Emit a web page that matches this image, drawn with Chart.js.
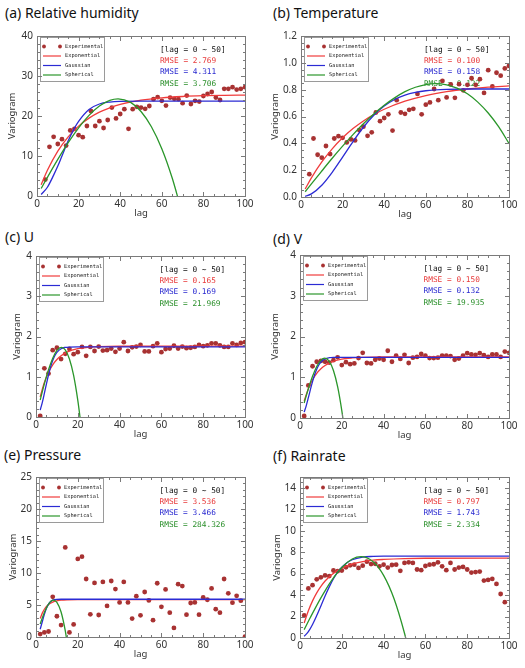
<!DOCTYPE html>
<html>
<head>
<meta charset="utf-8">
<title>Variogram</title>
<script src="https://cdn.jsdelivr.net/npm/chart.js@4.4.1/dist/chart.umd.min.js"></script>
<style>
  html, body { margin: 0; padding: 0; background: #fff; }
  body { position: relative; width: 525px; height: 668px; overflow: hidden; font-family: "Noto Sans", sans-serif; }
  .ttl { position: absolute; font-size: 14px; line-height: 18px; color: #111; white-space: nowrap; }
  canvas { position: absolute; }
</style>
</head>
<body>
<div class="ttl" style="left:5px;top:4px">(a) Relative humidity</div>
<div class="ttl" style="left:273px;top:4px">(b) Temperature</div>
<div class="ttl" style="left:5px;top:228px">(c) U</div>
<div class="ttl" style="left:273px;top:230px">(d) V</div>
<div class="ttl" style="left:4px;top:446px">(e) Pressure</div>
<div class="ttl" style="left:273px;top:447px">(f) Rainrate</div>
<canvas id="pa"></canvas>
<canvas id="pb"></canvas>
<canvas id="pc"></canvas>
<canvas id="pd"></canvas>
<canvas id="pe"></canvas>
<canvas id="pf"></canvas>
<script>
// lag of the experimental variogram
const lags = [2,4,6,8,10,12,14,16,18,20,22,24,26,28,30,32,34,36,38,40,42,44,46,48,50,
              52,54,56,58,60,62,64,66,68,70,72,74,76,78,80,82,84,86,88,90,92,94,96,98,100];
const xTicks = [0, 20, 40, 60, 80, 100];

// (a) Relative humidity
const rhObs = [null,4.1,12.3,14.8,13.0,14.2,12.6,16.4,16.8,15.2,14.7,17.5,21.2,17.5,18.7,17.0,19.0,22.1,19.4,20.5,
               21.7,16.8,21.7,22.3,22.1,21.8,22.5,24.2,24.7,23.8,22.6,24.6,24.3,24.2,23.2,25.1,23.0,23.8,23.6,25.0,
               25.5,26.0,24.6,24.0,26.8,26.8,27.2,26.6,26.8,27.2];
const rhExpLag = [2,5,10,15,20,25,30,35,40,50,60,70,80,90,100];
const rhExpVal = [2.80,6.43,11.23,14.80,17.47,19.46,20.95,22.05,22.88,23.95,24.55,24.88,25.07,25.17,25.23];
const rhGauLag = [2,5,8,10,12,15,18,20,25,30,35,40,50,100];
const rhGauVal = [0.37,2.19,5.22,7.48,10.02,13.79,16.96,18.67,21.63,23.00,23.49,23.65,23.70,23.70];
const rhSphLag = [2,5,10,15,20,25,30,35,39,45,50,55,60,65,69];
const rhSphVal = [1.87,4.65,9.14,13.33,17.05,20.16,22.51,23.93,24.30,23.40,21.13,17.32,11.83,4.50,-2.78];
const rhYTicks = [0, 10, 20, 30, 40];
const rhRmse = ['2.769', '4.311', '3.706'];

// (b) Temperature
const tObs = [null,0.17,0.436,0.315,0.293,0.38,0.32,0.436,0.453,0.441,0.407,0.429,0.422,0.499,0.524,0.456,0.482,0.63,0.565,0.589,
              0.616,0.495,0.722,0.63,0.62,0.65,0.657,0.768,0.616,0.688,0.705,0.805,0.722,0.865,0.742,0.839,0.739,0.841,0.795,0.836,
              0.885,0.836,0.878,0.776,0.945,0.824,0.926,0.904,0.958,0.977];
const tExpLag = [2,5,10,15,20,25,30,35,40,50,60,70,80,90,100];
const tExpVal = [0.060,0.142,0.261,0.359,0.441,0.510,0.567,0.614,0.654,0.714,0.756,0.785,0.805,0.819,0.828];
const tGauLag = [2,5,10,15,20,25,30,35,40,45,50,55,60,70,80,100];
const tGauVal = [0.004,0.023,0.088,0.184,0.297,0.413,0.520,0.609,0.678,0.727,0.760,0.780,0.792,0.802,0.805,0.805];
const tSphLag = [2,5,10,15,20,25,30,35,40,45,50,55,60,64.7,70,75,80,85,90,95,100];
const tSphVal = [0.039,0.098,0.194,0.289,0.379,0.465,0.546,0.619,0.684,0.739,0.785,0.818,0.838,0.845,0.836,0.811,0.769,0.707,0.626,0.524,0.399];
const tYTicks = [0, 0.2, 0.4, 0.6, 0.8, 1.0, 1.2];
const tRmse = ['0.100', '0.158', '0.122'];

// (c) U
const uObs = [0.03,1.21,1.08,1.66,1.72,1.44,1.57,1.69,1.56,1.61,1.74,1.52,1.74,1.64,1.75,1.65,1.66,1.70,1.62,1.70,
              1.86,1.64,1.73,1.75,1.79,1.63,1.63,1.76,1.83,1.61,1.69,1.70,1.77,1.70,1.75,1.71,1.72,1.74,1.79,1.76,
              1.78,1.83,1.83,1.78,1.74,1.74,1.83,1.79,1.84,1.86];
const uExpLag = [2,4,6,8,10,12,15,20,25,30,40,100];
const uExpVal = [0.50,0.856,1.113,1.296,1.428,1.522,1.616,1.697,1.733,1.748,1.758,1.760];
const uGauLag = [2,3,4,5,6,7,8,9,10,12,14,16,20,100];
const uGauVal = [0.17,0.359,0.586,0.824,1.050,1.246,1.404,1.523,1.606,1.697,1.729,1.738,1.740,1.740];
const uSphLag = [2,4,6,8,10,12.15,14,16,18,20,21,22];
const uSphVal = [0.423,0.823,1.177,1.462,1.654,1.730,1.667,1.442,1.032,0.413,0.019,-0.436];
const uYTicks = [0, 1, 2, 3, 4];
const uRmse = ['0.165', '0.169', '21.969'];

// (d) V
const vObs = [0.05,0.80,1.27,1.38,1.40,1.38,1.36,1.42,1.49,1.30,1.37,1.32,1.34,1.47,1.60,1.35,1.34,1.43,1.46,1.43,
              1.65,1.38,1.53,1.45,1.55,1.35,1.48,1.50,1.57,1.53,1.47,1.47,1.48,1.53,1.53,1.52,1.43,1.46,1.53,1.59,
              1.56,1.55,1.59,1.54,1.50,1.56,1.56,1.50,1.63,1.60];
const vExpLag = [2,4,6,8,10,12,15,20,25,30,40,100];
const vExpVal = [0.419,0.721,0.939,1.096,1.209,1.290,1.372,1.444,1.475,1.489,1.498,1.500];
const vGauLag = [2,3,4,5,6,7,8,9,10,12,14,16,20,100];
const vGauVal = [0.144,0.305,0.498,0.701,0.894,1.061,1.197,1.300,1.373,1.452,1.480,1.488,1.490,1.490];
const vSphLag = [2,4,6,8,10,11.84,14,16,18,20,21];
const vSphVal = [0.369,0.717,1.022,1.263,1.420,1.470,1.392,1.166,0.769,0.182,-0.19];
const vYTicks = [0, 1, 2, 3, 4];
const vRmse = ['0.150', '0.132', '19.935'];

// (e) Pressure
const pObs = [0.46,0.71,0.86,6.28,3.24,1.87,14.0,0.71,1.97,12.2,12.55,9.06,3.54,8.45,3.44,8.6,4.86,8.75,7.49,5.41,
              8.6,5.41,2.88,6.38,3.39,7.03,5.72,2.63,8.40,4.71,7.44,3.80,1.42,8.25,7.95,3.49,5.31,5.41,3.49,6.17,
              5.82,7.59,4.35,3.80,9.06,6.83,5.36,6.43,5.67,0.05];
const pExpLag = [2,3,4,5,6,8,10,12,15,20,100];
const pExpVal = [2.88,3.73,4.34,4.78,5.08,5.46,5.65,5.75,5.81,5.84,5.85];
const pGauLag = [2,3,4,5,6,7,8,9,10,12,100];
const pGauVal = [1.21,2.38,3.54,4.49,5.15,5.54,5.75,5.84,5.88,5.90,5.90];
const pSphLag = [2,4,6,8.37,10,12,14,15];
const pSphVal = [2.03,3.82,5.14,5.77,5.42,3.91,0.98,-1.09];
const pYTicks = [0, 5, 10, 15, 20, 25];
const pRmse = ['3.536', '3.466', '284.326'];

// (f) Rainrate
const rObs = [2.1,4.62,4.92,5.47,5.65,5.83,5.77,6.29,6.23,6.29,6.59,6.77,6.83,6.53,6.74,7.11,6.89,6.92,6.68,6.83,
              6.56,6.80,6.83,6.26,6.99,7.05,6.99,6.38,6.32,6.71,6.83,6.87,7.05,6.68,6.32,6.99,6.38,6.56,6.62,6.38,
              6.10,6.14,6.19,5.35,5.41,5.50,5.04,4.10,3.34,null];
const rExpLag = [2,4,6,8,10,12,15,20,25,30,35,40,50,60,100];
const rExpVal = [1.40,2.54,3.46,4.21,4.81,5.31,5.88,6.51,6.89,7.11,7.25,7.32,7.40,7.43,7.44];
const rGauLag = [2,4,6,8,10,12,14,16,18,20,22,25,30,35,40,100];
const rGauVal = [0.152,0.589,1.26,2.09,2.99,3.92,4.76,5.52,6.14,6.60,6.95,7.29,7.54,7.60,7.62,7.62];
const rSphLag = [2,5,10,15,20,25,29.2,35,40,45,50,52];
const rSphVal = [0.78,1.93,3.74,5.33,6.57,7.36,7.58,7.10,5.83,3.65,0.44,-1.16];
const rYTicks = [0, 2, 4, 6, 8, 10, 12, 14];
const rRmse = ['0.797', '1.743', '2.334'];

const dotColor = '#a83232';
const lineColors = ['#f03c3c', '#2b2bd4', '#2a962a'];
const rmseColors = ['#e83a3a', '#2a2ad0', '#2a8f2a'];

Chart.defaults.font.family = '"Noto Sans", sans-serif';
Chart.defaults.color = '#333';

function pts(xs, ys) {
	return xs.map((x, i) => ({ x: x, y: ys[i] }));
}

// major ticks plus minor ones in between
function tickList(majors, div, max) {
	const step = (majors[1] - majors[0]) / div;
	const out = [];
	for (let i = 0; majors[0] + i * step <= max + step * 1e-6; i++) {
		const v = +(majors[0] + i * step).toFixed(6);
		out.push({ v: v, major: majors.some(m => Math.abs(m - v) < step * 1e-3) });
	}
	return out;
}

// legend, rmse text, frame and inward ticks
const deco = {
	id: 'deco',
	beforeDatasetsDraw(chart, args, o) {
		const { ctx, chartArea: ca } = chart;
		ctx.save();
		ctx.font = '7.8px "DejaVu Sans Mono", monospace';
		ctx.textBaseline = 'middle';
		const x0 = ca.left + ca.width * 0.591;
		const y0 = ca.top + 14;
		ctx.fillStyle = '#111';
		ctx.fillText('[lag = 0 ~ 50]', x0, y0);
		o.rmse.forEach((r, i) => {
			ctx.fillStyle = rmseColors[i];
			ctx.fillText('RMSE = ' + r, x0, y0 + 11.2 * (i + 1));
		});
		ctx.restore();
	},
	afterDatasetsDraw(chart, args, o) {
		const { ctx, chartArea: ca, scales } = chart;
		ctx.save();
		const lx = Math.round(ca.left) + 3, ly = Math.round(ca.top) + 1;
		ctx.fillStyle = '#fff';
		ctx.fillRect(lx, ly, 64, 44);
		ctx.strokeStyle = '#9a9a9a';
		ctx.lineWidth = 1;
		ctx.strokeRect(lx + 0.5, ly + 0.5, 64, 44);
		ctx.font = '5.3px "DejaVu Sans Mono", monospace';
		ctx.textBaseline = 'middle';
		chart.data.datasets.forEach((ds, i) => {
			const yy = ly + 9.5 + i * 9.5;
			if (!ds.showLine) {
				ctx.fillStyle = ds.pointBackgroundColor;
				[lx + 4, lx + 20].forEach(px => {
					ctx.beginPath();
					ctx.arc(px, yy, 1.9, 0, Math.PI * 2);
					ctx.fill();
				});
			} else {
				ctx.strokeStyle = ds.borderColor;
				ctx.lineWidth = 1.2;
				ctx.beginPath();
				ctx.moveTo(lx + 3, yy);
				ctx.lineTo(lx + 21, yy);
				ctx.stroke();
			}
			ctx.fillStyle = '#222';
			ctx.fillText(ds.label, lx + 25, yy);
		});

		const L = Math.round(ca.left) + 0.5, R = Math.round(ca.right) + 0.5;
		const T = Math.round(ca.top) + 0.5, B = Math.round(ca.bottom) + 0.5;
		ctx.strokeStyle = '#7a7a7a';
		ctx.lineWidth = 1;
		ctx.beginPath();
		tickList(xTicks, 4, 100).forEach(t => {
			const px = Math.round(scales.x.getPixelForValue(t.v)) + 0.5;
			const len = t.major ? 4.5 : 2.5;
			ctx.moveTo(px, B); ctx.lineTo(px, B - len);
			ctx.moveTo(px, T); ctx.lineTo(px, T + len);
		});
		tickList(o.yTicks, o.yDiv, o.yMax).forEach(t => {
			const py = Math.round(scales.y.getPixelForValue(t.v)) + 0.5;
			const len = t.major ? 4.5 : 2.5;
			ctx.moveTo(L, py); ctx.lineTo(L + len, py);
			ctx.moveTo(R, py); ctx.lineTo(R - len, py);
		});
		ctx.stroke();
		ctx.strokeRect(L, T, R - L, B - T);
		ctx.restore();
	}
};

function makePanel(p) {
	const [L, T, R, B] = p.box;
	const cv = document.getElementById(p.id);
	cv.width = (R - L) + 37 + 14;
	cv.height = (B - T) + 6 + 24;
	cv.style.left = (L - 37) + 'px';
	cv.style.top = (T - 6) + 'px';

	const lineDs = (label, xs, ys, col, ord) => ({
		label: label,
		data: pts(xs, ys),
		showLine: true,
		borderColor: col,
		backgroundColor: col,
		borderWidth: 1.3,
		pointRadius: 0,
		fill: false,
		cubicInterpolationMode: 'monotone',
		order: ord
	});

	new Chart(cv, {
		type: 'line',
		data: {
			datasets: [{
				label: 'Experimental',
				data: pts(lags, p.obs),
				showLine: false,
				pointRadius: 2.4,
				pointBorderWidth: 0,
				pointBackgroundColor: dotColor,
				borderColor: dotColor,
				order: 4
			},
			lineDs('Exponential', p.exp[0], p.exp[1], lineColors[0], 3),
			lineDs('Gaussian', p.gau[0], p.gau[1], lineColors[1], 2),
			lineDs('Spherical', p.sph[0], p.sph[1], lineColors[2], 1)]
		},
		options: {
			responsive: false,
			animation: false,
			devicePixelRatio: 1,
			events: [],
			layout: { padding: { left: 0, right: 14, top: 6, bottom: 0 } },
			scales: {
				x: {
					type: 'linear', min: 0, max: 100,
					afterFit: s => { s.height = 24; },
					afterBuildTicks: s => { s.ticks = xTicks.map(v => ({ value: v })); },
					grid: { display: false, drawTicks: false },
					border: { display: false },
					ticks: { padding: 2, autoSkip: false, maxRotation: 0, font: { size: 10 }, color: '#333' },
					title: { display: true, text: 'lag', font: { size: 9.5 }, color: '#333', padding: { top: 0, bottom: 1 } }
				},
				y: {
					type: 'linear', min: 0, max: p.yMax,
					afterFit: s => { s.width = 37; },
					afterBuildTicks: s => { s.ticks = p.yTicks.map(v => ({ value: v })); },
					grid: { display: false, drawTicks: false },
					border: { display: false },
					ticks: { padding: 4, autoSkip: false, font: { size: 10 }, color: '#333',
						callback: v => p.dec ? v.toFixed(p.dec) : String(v) },
					title: { display: true, text: 'Variogram', font: { size: 9.5 }, color: '#333', padding: { top: p.yl, bottom: 0 } }
				}
			},
			plugins: {
				legend: { display: false },
				tooltip: { enabled: false },
				deco: { rmse: p.rmse, yTicks: p.yTicks, yDiv: p.yDiv, yMax: p.yMax }
			}
		},
		plugins: [deco]
	});
}

makePanel({ id: 'pa', box: [37, 32, 245, 196], yl: 6.8, yMax: 40, yTicks: rhYTicks, yDiv: 5, dec: 0,
	obs: rhObs, exp: [rhExpLag, rhExpVal], gau: [rhGauLag, rhGauVal], sph: [rhSphLag, rhSphVal], rmse: rhRmse });
makePanel({ id: 'pb', box: [301, 32, 509, 197], yl: 5.3, yMax: 1.2, yTicks: tYTicks, yDiv: 4, dec: 1,
	obs: tObs, exp: [tExpLag, tExpVal], gau: [tGauLag, tGauVal], sph: [tSphLag, tSphVal], rmse: tRmse });
makePanel({ id: 'pc', box: [36, 252, 245, 417], yl: 12.3, yMax: 4, yTicks: uYTicks, yDiv: 5, dec: 0,
	obs: uObs, exp: [uExpLag, uExpVal], gau: [uGauLag, uGauVal], sph: [uSphLag, uSphVal], rmse: uRmse });
makePanel({ id: 'pd', box: [300, 251, 509, 418], yl: 6.3, yMax: 4, yTicks: vYTicks, yDiv: 5, dec: 0,
	obs: vObs, exp: [vExpLag, vExpVal], gau: [vGauLag, vGauVal], sph: [vSphLag, vSphVal], rmse: vRmse });
makePanel({ id: 'pe', box: [36, 473, 245, 637], yl: 8.3, yMax: 25, yTicks: pYTicks, yDiv: 5, dec: 0,
	obs: pObs, exp: [pExpLag, pExpVal], gau: [pGauLag, pGauVal], sph: [pSphLag, pSphVal], rmse: pRmse });
makePanel({ id: 'pf', box: [300, 473, 509, 638], yl: 8.8, yMax: 15, yTicks: rYTicks, yDiv: 4, dec: 0,
	obs: rObs, exp: [rExpLag, rExpVal], gau: [rGauLag, rGauVal], sph: [rSphLag, rSphVal], rmse: rRmse });
</script>
</body>
</html>
